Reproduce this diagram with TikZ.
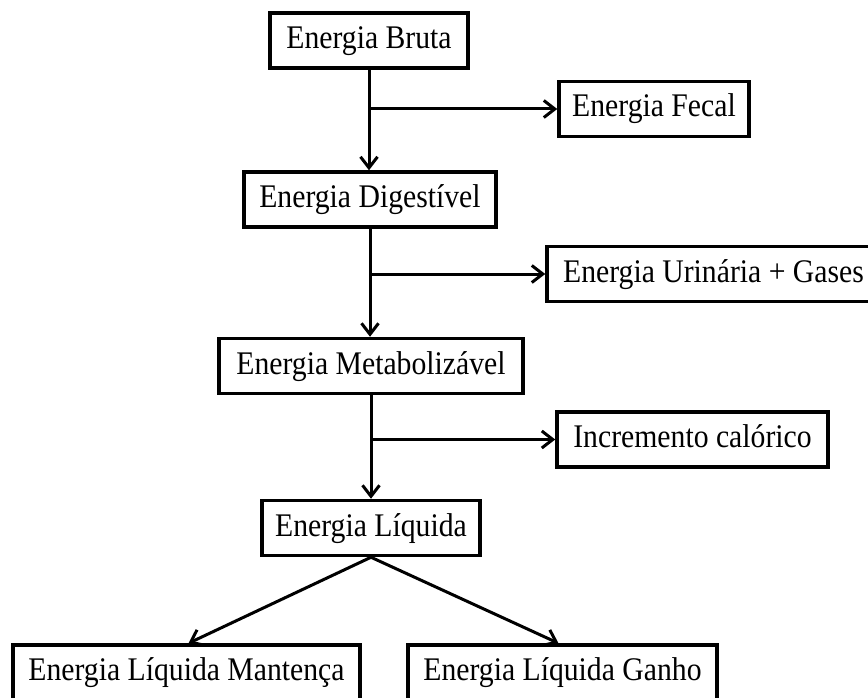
\documentclass[tikz,border=0pt]{standalone}
\usepackage{fontspec}
\setmainfont[FakeStretch=0.9]{Liberation Serif}
\usetikzlibrary{arrows.meta}
\begin{document}
\begin{tikzpicture}[x=1pt,y=-1pt,
  box/.style={draw, line width=3.5pt, minimum height=55pt, inner sep=0pt,
    font=\fontsize{33}{38}\selectfont, text height=22pt, text depth=6pt, align=center},
  flow/.style={line width=3pt, -{Straight Barb[length=11pt,width=17pt,line width=3pt]}}]
\useasboundingbox (0,0) rectangle (868,698);
\node[box, minimum width=198pt] (bruta) at (369,40.5) {Energia Bruta};
\node[box, minimum width=190pt] (fecal) at (654,109) {Energia Fecal};
\node[box, minimum width=252pt] (dig) at (370,199.5) {Energia Digestível};
\node[box, minimum width=333pt] (uri) at (713.5,274) {Energia Urinária + Gases};
\node[box, minimum width=304pt] (met) at (371,366) {Energia Metabolizável};
\node[box, minimum width=271pt] (inc) at (692.5,439.5) {Incremento calórico};
\node[box, minimum width=218pt] (liq) at (371,528) {Energia Líquida};
\node[box, minimum width=347pt] (mant) at (186.5,672.5) {Energia Líquida Mantença};
\node[box, minimum width=309pt] (ganho) at (562.5,672.5) {Energia Líquida Ganho};

\coordinate (b1) at (bruta.south |- fecal.west);
\coordinate (b2) at (dig.south |- uri.west);
\coordinate (b3) at (met.south |- inc.west);

\draw[flow] (bruta.south) -- (bruta.south |- dig.north);
\draw[flow] (b1) -- (fecal.west);
\draw[flow] (dig.south) -- (dig.south |- met.north);
\draw[flow] (b2) -- (uri.west);
\draw[flow] (met.south) -- (met.south |- liq.north);
\draw[flow] (b3) -- (inc.west);
\draw[flow] (liq.south) -- ([xshift=2pt]mant.north);
\draw[flow] (liq.south) -- ([xshift=-4pt]ganho.north);
\end{tikzpicture}
\end{document}
